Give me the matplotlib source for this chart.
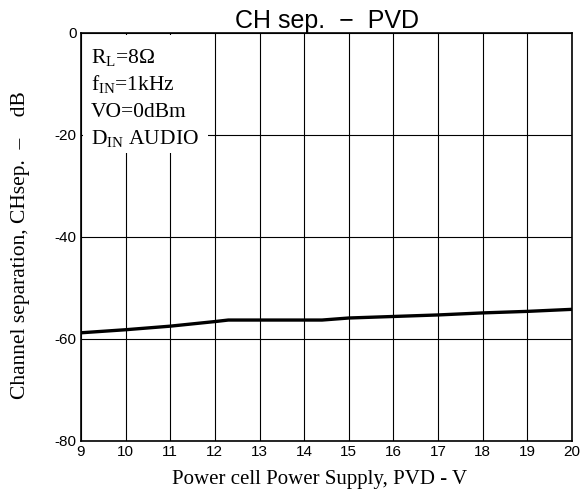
import matplotlib
matplotlib.use('Agg')
import matplotlib.pyplot as plt
from matplotlib.patches import Rectangle

# values
supply_v = [9, 10, 11, 12, 12.3, 13, 14, 14.4, 15, 16, 17, 18, 19, 20]
ch_sep_db = [-58.8, -58.2, -57.5, -56.6, -56.3, -56.3, -56.3, -56.3, -55.9, -55.6, -55.3, -54.9, -54.6, -54.2]

x_ticks = list(range(9, 21))
y_ticks = [0, -20, -40, -60, -80]
conditions = [r'$\mathrm{R_L}$=8Ω', r'$\mathrm{f_{IN}}$=1kHz', 'VO=0dBm', r'$\mathrm{D_{IN}}$ AUDIO']

plt.rcParams['mathtext.fontset'] = 'custom'
plt.rcParams['mathtext.rm'] = 'Liberation Serif'
plt.rcParams['axes.unicode_minus'] = False

fig = plt.figure(figsize=(5.82, 4.91), dpi=100)
ax = fig.add_axes([0.139, 0.102, 0.844, 0.831])

ax.plot(supply_v, ch_sep_db, color='black', lw=2.4, solid_capstyle='butt', zorder=3)

ax.set_xlim(9, 20)
ax.set_ylim(-80, 0)
ax.set_xticks(x_ticks)
ax.set_yticks(y_ticks)
ax.tick_params(length=0, pad=3)
for lab in ax.get_xticklabels() + ax.get_yticklabels():
    lab.set_fontfamily('Liberation Sans')
    lab.set_fontsize(11)
ax.grid(True, color='black', lw=0.8)
ax.set_axisbelow(True)
for sp in ax.spines.values():
    sp.set_linewidth(1.2)

ax.set_title('CH sep.  \u2212  PVD', fontfamily='Liberation Sans', fontsize=18, pad=2)
ax.set_xlabel('Power cell Power Supply, PVD - V', fontfamily='Liberation Serif', fontsize=15,
              labelpad=8, x=0.485)
ax.set_ylabel('Channel separation, CHsep.  \u2013    dB', fontfamily='Liberation Serif', fontsize=15.5,
              labelpad=18, y=0.48)

# white box behind the test conditions
ax.add_patch(Rectangle((0.004, 0.705), 0.255, 0.29, transform=ax.transAxes,
                       facecolor='white', edgecolor='none', zorder=2))
for i, line in enumerate(conditions):
    ax.text(0.02, 0.925 - i * 0.066, line, transform=ax.transAxes, fontfamily='Liberation Serif',
            fontsize=15.5, va='baseline', ha='left', zorder=4)

fig.savefig('out.png', dpi=100)
